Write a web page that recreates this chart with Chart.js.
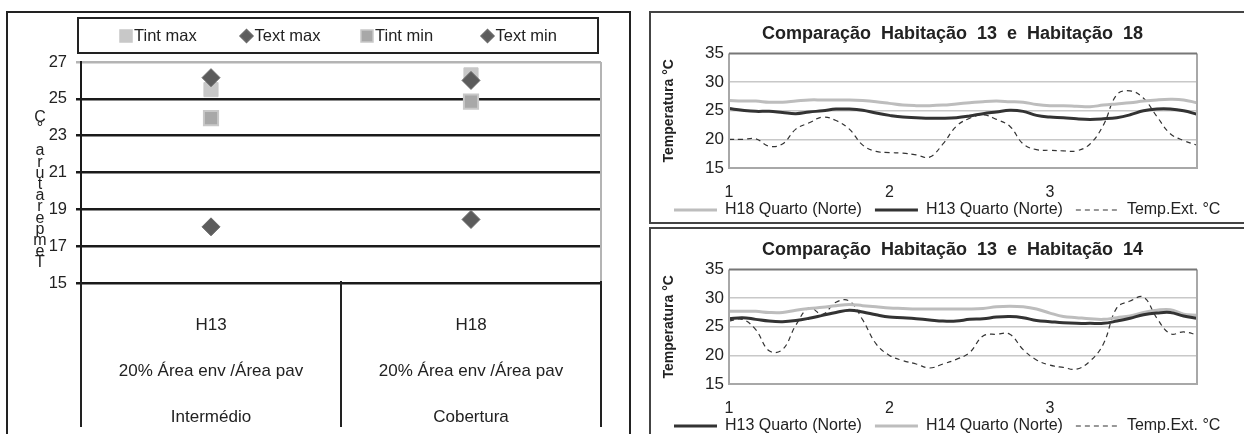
<!DOCTYPE html>
<html>
<head>
<meta charset="utf-8">
<script src="https://cdn.jsdelivr.net/npm/chart.js@4.4.0/dist/chart.umd.min.js"></script>
<style>
  html, body { margin: 0; padding: 0; background: #fff; }
  body { width: 1244px; height: 434px; position: relative; overflow: hidden; }
  .moldura { position: absolute; box-sizing: border-box; }
  #moldura1 { left: 6px; top: 11px; width: 625px; height: 440px; border: 2px solid #222; }
  #moldura2 { left: 649px; top: 11px; width: 620px; height: 213px; border: 2px solid #444; }
  #moldura3 { left: 649px; top: 227px; width: 620px; height: 230px; border: 2px solid #444; }
  canvas { position: absolute; }
  #graficoTint { left: 8px; top: 13px; }
  #graficoH18 { left: 651px; top: 13px; }
  #graficoH14 { left: 651px; top: 229px; }
</style>
</head>
<body>
<div class="moldura" id="moldura1"></div>
<div class="moldura" id="moldura2"></div>
<div class="moldura" id="moldura3"></div>
<canvas id="graficoTint" width="620" height="421"></canvas>
<canvas id="graficoH18" width="593" height="215"></canvas>
<canvas id="graficoH14" width="593" height="215"></canvas>
<script>
// ---- dados do grafico da esquerda (max/min por habitacao) ----
const habitacoes = ['H13', 'H18'];
const areaEnv = ['20% Área env /Área pav', '20% Área env /Área pav'];
const posicao = ['Intermédio', 'Cobertura'];
const tintMax = [25.5, 26.3];
const textMax = [26.15, 26.0];
const tintMin = [23.95, 24.85];
const textMin = [18.05, 18.45];
const tituloEixoEsq = 'Temperatura °C';

// ---- dados dos graficos da direita (de 2 em 2 horas, 3 dias) ----
const diasLabels = ['1', '2', '3'];
const pontosPorDia = 12;

const h18Norte = [26.8, 26.7, 26.7, 26.5, 26.5, 26.7, 26.9, 26.9, 26.9, 26.9, 26.8, 26.6,
                  26.3, 26.0, 25.9, 25.9, 26.0, 26.2, 26.4, 26.6, 26.7, 26.6, 26.5, 26.1,
                  25.9, 25.9, 25.8, 25.7, 26.0, 26.2, 26.4, 26.7, 26.9, 27.0, 26.9, 26.4];
const h13NorteA = [25.4, 25.1, 24.9, 24.9, 24.7, 24.5, 24.8, 25.0, 25.3, 25.3, 25.1, 24.6,
                   24.2, 23.9, 23.8, 23.7, 23.7, 23.8, 24.1, 24.5, 24.8, 25.1, 24.9, 24.2,
                   23.9, 23.8, 23.6, 23.5, 23.6, 23.8, 24.3, 25.0, 25.3, 25.3, 25.0, 24.4];
const extA = [20.0, 20.0, 20.1, 18.8, 19.2, 21.8, 22.9, 23.9, 23.3, 21.8, 19.0, 17.9,
              17.7, 17.6, 17.3, 16.9, 19.2, 22.3, 23.7, 24.3, 23.5, 22.3, 19.2, 18.2,
              18.1, 18.0, 18.0, 19.2, 22.5, 27.8, 28.5, 27.2, 24.0, 21.0, 19.8, 19.0];

const h13NorteB = [26.4, 26.6, 26.3, 26.0, 25.9, 26.1, 26.5, 27.0, 27.5, 27.9, 27.6, 27.1,
                   26.7, 26.6, 26.4, 26.2, 26.0, 26.0, 26.3, 26.4, 26.7, 26.8, 26.6, 26.1,
                   25.9, 25.7, 25.6, 25.6, 25.6, 26.0, 26.5, 27.1, 27.4, 27.5, 26.9, 26.5];
const h14Norte = [27.7, 27.7, 27.7, 27.5, 27.5, 27.9, 28.2, 28.4, 28.7, 28.9, 28.7, 28.5,
                  28.3, 28.2, 28.1, 28.1, 28.1, 28.1, 28.1, 28.2, 28.5, 28.6, 28.5, 28.1,
                  27.4, 26.8, 26.6, 26.4, 26.3, 26.6, 26.9, 27.5, 27.9, 28.0, 27.2, 27.0];
const extB = [26.0, 26.3, 24.5, 20.8, 21.0, 25.3, 28.3, 27.2, 29.3, 29.5, 26.2, 22.0,
              20.0, 19.1, 18.5, 17.8, 18.5, 19.3, 20.5, 23.4, 23.7, 23.7, 21.0, 19.2,
              18.3, 17.9, 17.6, 19.0, 22.0, 28.3, 29.5, 30.2, 26.5, 23.8, 24.1, 23.6];

const fonteEsq = "'Liberation Sans', Arial, sans-serif";
const fonteNormal = "'Liberation Sans', Arial, sans-serif";

// rotulos do eixo x: so o numero do dia no inicio de cada dia
const rotulosHoras = h18Norte.map((v, i) => i % pontosPorDia === 0 ? diasLabels[i / pontosPorDia] : '');

// ---------- grafico da esquerda ----------
function desenhaMarca(ctx, estilo, x, y, r, fundo, borda) {
  ctx.beginPath();
  if (estilo === 'rect') {
    ctx.rect(x - r, y - r, 2 * r, 2 * r);
  } else {
    ctx.moveTo(x, y - r); ctx.lineTo(x + r, y); ctx.lineTo(x, y + r); ctx.lineTo(x - r, y); ctx.closePath();
  }
  ctx.fillStyle = fundo; ctx.fill();
  ctx.lineWidth = 1.5; ctx.strokeStyle = borda; ctx.stroke();
}

const legendaCaixa = {
  id: 'legendaCaixa',
  afterDraw(chart) {
    const {ctx, chartArea} = chart;
    ctx.save();
    ctx.lineWidth = 2;
    ctx.strokeStyle = '#222';
    ctx.strokeRect(chartArea.left - 3, 5, chartArea.width, 35);
    ctx.font = '16.5px ' + fonteEsq;
    ctx.textBaseline = 'middle';
    chart.data.datasets.forEach((ds, i) => {
      const x = chartArea.left + 45 + i * 120.5;
      const y = 23;
      desenhaMarca(ctx, ds.pointStyle, x, y, ds.pointStyle === 'rect' ? 6 : 6.5, ds.backgroundColor, ds.borderColor);
      ctx.fillStyle = '#222';
      ctx.fillText(ds.label, x + 8, y);
    });
    ctx.restore();
  }
};

const tabelaEixo = {
  id: 'tabelaEixo',
  afterDraw(chart) {
    const {ctx, chartArea, scales: {x}} = chart;
    ctx.save();
    // borda direita da area do grafico (cinzenta)
    ctx.strokeStyle = '#b4b4b4';
    ctx.lineWidth = 2;
    ctx.beginPath();
    ctx.moveTo(chartArea.right, chartArea.top);
    ctx.lineTo(chartArea.right, chartArea.bottom);
    ctx.stroke();
    // linhas verticais da tabela por baixo do eixo
    ctx.strokeStyle = '#222';
    for (let i = 0; i <= habitacoes.length; i++) {
      const px = x.getPixelForValue(i - 0.5);
      ctx.beginPath();
      ctx.moveTo(px, chartArea.bottom - 2);
      ctx.lineTo(px, chartArea.bottom + 144);
      ctx.stroke();
    }
    // titulo do eixo y, letras empilhadas como no original
    ctx.font = '16px ' + fonteEsq;
    ctx.fillStyle = '#222';
    ctx.textAlign = 'center';
    ctx.textBaseline = 'middle';
    [...tituloEixoEsq].forEach((c, i) => ctx.fillText(c, 32, 250 - i * 11.2));
    ctx.restore();
  }
};

new Chart(document.getElementById('graficoTint'), {
  type: 'line',
  data: {
    labels: habitacoes.map((h, i) => [h, areaEnv[i], posicao[i]]),
    datasets: [
      { label: 'Tint max', data: tintMax, pointStyle: 'rect', pointRadius: 10,
        backgroundColor: '#c8c8c8', borderColor: '#c8c8c8', order: 2 },
      { label: 'Text max', data: textMax, pointStyle: 'rectRot', pointRadius: 9,
        backgroundColor: '#5c5c5c', borderColor: '#6a6a6a', order: 0 },
      { label: 'Tint min', data: tintMin, pointStyle: 'rect', pointRadius: 10,
        backgroundColor: '#a8a8a8', borderColor: '#c8c8c8', pointBorderWidth: 2, order: 3 },
      { label: 'Text min', data: textMin, pointStyle: 'rectRot', pointRadius: 9,
        backgroundColor: '#5c5c5c', borderColor: '#6a6a6a', order: 1 }
    ].map(d => Object.assign({ showLine: false, pointBorderWidth: 1 }, d))
  },
  options: {
    responsive: false,
    animation: false,
    layout: { padding: { top: 49, left: 0, right: 27, bottom: 0 } },
    plugins: { legend: { display: false }, tooltip: { enabled: false } },
    scales: {
      x: {
        offset: true,
        grid: { display: false },
        border: { display: false },
        ticks: { autoSkip: false, maxRotation: 0, padding: 12, color: '#222',
                 font: { family: fonteEsq, size: 17, lineHeight: 2.68 } },
        afterFit(s) { s.height = 151; }
      },
      y: {
        min: 15, max: 27,
        ticks: { stepSize: 2, padding: 9, color: '#222', font: { family: fonteEsq, size: 16.5 } },
        grid: {
          color: c => c.tick.value === 27 ? '#b4b4b4' : '#1a1a1a',
          lineWidth: 2.5, tickLength: 5
        },
        border: { color: '#1a1a1a', width: 2 },
        afterFit(s) { s.width = 73; }
      }
    }
  },
  plugins: [legendaCaixa, tabelaEixo]
});

// ---------- graficos da direita ----------
const molduraPlot = {
  id: 'molduraPlot',
  afterDraw(chart) {
    const {ctx, chartArea: a} = chart;
    ctx.save();
    ctx.lineWidth = 2;
    ctx.strokeStyle = '#a8a8a8';
    ctx.beginPath();
    ctx.moveTo(a.left, a.top); ctx.lineTo(a.left, a.bottom);
    ctx.lineTo(a.right, a.bottom); ctx.lineTo(a.right, a.top);
    ctx.stroke();
    ctx.strokeStyle = '#777';
    ctx.beginPath();
    ctx.moveTo(a.left, a.top); ctx.lineTo(a.right, a.top);
    ctx.stroke();
    ctx.restore();
  }
};

function graficoTemperatura(id, titulo, series) {
  return new Chart(document.getElementById(id), {
    type: 'line',
    data: {
      labels: rotulosHoras,
      datasets: series.map(s => ({
        label: s.nome,
        data: s.dados,
        borderColor: s.cor,
        borderWidth: s.largura,
        borderDash: s.tracejado || [],
        pointRadius: 0,
        tension: 0.4,
        fill: false
      }))
    },
    options: {
      responsive: false,
      animation: false,
      layout: { padding: { left: 10, right: 0, top: 0, bottom: 0 } },
      plugins: {
        tooltip: { enabled: false },
        title: {
          display: true, text: titulo, color: '#222',
          font: { family: fonteNormal, size: 18, weight: 'bold' },
          padding: { top: 10, bottom: 9 }
        },
        legend: {
          position: 'bottom', align: 'start',
          labels: {
            boxWidth: 43, boxHeight: 0,
            color: '#222', padding: 13,
            font: { family: fonteNormal, size: 16 }
          }
        }
      },
      scales: {
        x: {
          grid: { display: false },
          border: { display: false },
          // mirror evita o recorte dos rotulos; padding negativo empurra-os para baixo do eixo
          ticks: { autoSkip: false, maxRotation: 0, mirror: true, padding: -34.6, color: '#222',
                   font: { family: fonteNormal, size: 16 } },
          afterFit(s) { s.height = 21; }
        },
        y: {
          min: 15, max: 35,
          ticks: { stepSize: 5, autoSkip: false, padding: 5, color: '#222',
                   font: { family: fonteNormal, size: 17 } },
          grid: {
            color: c => (c.tick.value === 15 || c.tick.value === 35) ? 'rgba(0,0,0,0)' : '#c8c8c8',
            lineWidth: 1.5, drawTicks: false
          },
          border: { display: false },
          title: { display: true, text: 'Temperatura °C', color: '#222', padding: 0,
                   font: { family: fonteNormal, size: 14, weight: 'bold' } },
          afterFit(s) { s.width = 68; }
        },
        // eixo vazio so para deixar a margem direita sem encolher a legenda
        margemDir: {
          position: 'right',
          grid: { display: false },
          border: { display: false },
          ticks: { display: false },
          afterFit(s) { s.width = 47; }
        }
      }
    },
    plugins: [molduraPlot]
  });
}

graficoTemperatura('graficoH18', 'Comparação  Habitação  13  e  Habitação  18', [
  { nome: 'H18 Quarto (Norte)', dados: h18Norte, cor: '#bdbdbd', largura: 3 },
  { nome: 'H13 Quarto (Norte)', dados: h13NorteA, cor: '#333333', largura: 3 },
  { nome: 'Temp.Ext. °C', dados: extA, cor: '#333333', largura: 1.2, tracejado: [5, 4] }
]);

graficoTemperatura('graficoH14', 'Comparação  Habitação  13  e  Habitação  14', [
  { nome: 'H13 Quarto (Norte)', dados: h13NorteB, cor: '#333333', largura: 3 },
  { nome: 'H14 Quarto (Norte)', dados: h14Norte, cor: '#bdbdbd', largura: 3 },
  { nome: 'Temp.Ext. °C', dados: extB, cor: '#333333', largura: 1.2, tracejado: [5, 4] }
]);
</script>
</body>
</html>
